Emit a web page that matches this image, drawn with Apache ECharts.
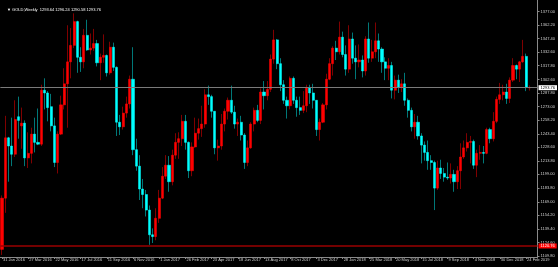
<!DOCTYPE html>
<html><head><meta charset="utf-8">
<script src="https://cdn.jsdelivr.net/npm/echarts@6/dist/echarts.min.js"></script>
<style>html,body{margin:0;padding:0;background:#000;overflow:hidden}#c{width:558px;height:267px}</style>
</head><body><div id="c"></div>
<script>
// Weekly GOLD candles, week of 31 Jan 2016 .. week of 3 Mar 2019
const openP = [1117,1173,1239,1230,1221,1262,1252,1255,1217,1222,
1243,1234,1232,1291,1288,1273,1252,1212,1243,1275,
1298,1322,1340,1366,1327,1322,1351,1335,1337,1342,
1321,1327,1329,1310,1338,1316,1256,1251,1266,1276,
1303,1226,1208,1183,1177,1160,1133,1131,1151,1173,
1197,1209,1191,1220,1234,1238,1257,1234,1203,1229,
1244,1249,1254,1286,1284,1268,1228,1230,1254,1268,
1280,1267,1254,1256,1242,1212,1228,1254,1269,1258,
1289,1285,1292,1325,1346,1320,1297,1280,1274,1304,
1280,1272,1269,1274,1294,1288,1280,1248,1256,1275,
1303,1320,1337,1333,1349,1330,1314,1347,1326,1322,
1324,1312,1347,1326,1333,1345,1336,1322,1315,1318,
1291,1302,1294,1298,1280,1269,1251,1256,1241,1231,
1223,1214,1212,1184,1206,1200,1196,1195,1199,1191,
1203,1218,1228,1234,1235,1209,1222,1223,1222,1248,
1238,1257,1281,1286,1289,1282,1302,1318,1314,1322,
1328,1293.64];
const highP = [1176,1263,1240,1261,1280,1284,1272,1258,1245,1250,
1261,1271,1297,1304,1290,1287,1261,1246,1285,1315,
1362,1359,1375,1367,1338,1358,1368,1353,1358,1346,
1331,1352,1330,1344,1343,1317,1264,1273,1284,1307,
1338,1238,1220,1194,1182,1165,1140,1162,1182,1207,
1220,1219,1226,1244,1245,1264,1264,1235,1234,1261,
1260,1274,1292,1296,1286,1268,1237,1265,1271,1283,
1296,1274,1260,1263,1244,1236,1256,1272,1275,1293,
1301,1301,1330,1357,1347,1326,1302,1284,1306,1306,
1284,1284,1290,1297,1297,1298,1280,1260,1277,1309,
1326,1339,1345,1366,1355,1340,1362,1354,1340,1341,
1329,1350,1365,1346,1365,1353,1338,1327,1326,1322,
1307,1308,1303,1310,1282,1272,1265,1263,1244,1235,
1236,1220,1214,1214,1215,1206,1212,1211,1204,1208,
1233,1236,1244,1241,1237,1226,1231,1230,1250,1250,
1267,1284,1299,1297,1298,1305,1326,1319,1323,1346,
1331,1296.24];
const lowP = [1111,1157,1191,1208,1218,1238,1227,1208,1206,1211,
1223,1231,1230,1270,1257,1246,1207,1200,1242,1270,
1250,1304,1337,1310,1311,1315,1334,1330,1334,1317,
1302,1321,1306,1308,1312,1241,1242,1248,1261,1271,
1220,1203,1171,1162,1153,1122,1124,1127,1146,1172,
1194,1180,1187,1216,1216,1230,1226,1195,1197,1228,
1237,1240,1250,1275,1261,1221,1214,1226,1246,1259,
1265,1249,1241,1236,1205,1208,1227,1246,1256,1254,
1270,1280,1289,1320,1314,1290,1276,1260,1270,1276,
1262,1264,1266,1267,1276,1271,1241,1236,1255,1270,
1302,1307,1324,1330,1327,1307,1310,1320,1303,1316,
1305,1307,1321,1322,1326,1322,1310,1302,1302,1282,
1281,1288,1289,1274,1261,1246,1238,1237,1211,1214,
1204,1204,1160,1182,1194,1191,1193,1189,1180,1183,
1183,1216,1224,1211,1205,1196,1215,1211,1221,1233,
1235,1255,1276,1280,1276,1277,1300,1303,1300,1321,
1290,1290.58];
const closeP = [1173,1239,1230,1221,1259,1258,1255,1217,1222,1243,
1234,1232,1291,1288,1272,1252,1212,1243,1275,1298,
1322,1340,1366,1327,1322,1351,1335,1337,1342,1321,
1327,1329,1310,1338,1316,1256,1251,1266,1276,1303,
1226,1208,1183,1177,1160,1133,1131,1151,1173,1197,
1209,1191,1220,1234,1238,1257,1234,1203,1229,1244,
1249,1254,1286,1284,1268,1228,1230,1254,1268,1280,
1267,1254,1256,1242,1212,1228,1254,1269,1258,1289,
1285,1292,1325,1346,1320,1297,1280,1274,1304,1280,
1272,1269,1274,1294,1288,1280,1248,1256,1275,1303,
1320,1337,1333,1349,1330,1314,1347,1326,1322,1324,
1312,1347,1326,1333,1345,1336,1322,1315,1318,1291,
1302,1294,1298,1280,1269,1251,1256,1241,1231,1223,
1214,1212,1184,1206,1200,1196,1195,1199,1191,1203,
1218,1228,1234,1235,1209,1222,1223,1222,1248,1238,
1257,1281,1286,1289,1282,1302,1318,1314,1322,1328,
1294,1293.76];
const xTickLabels = ['31 Jan 2016','27 Mar 2016','22 May 2016','17 Jul 2016','11 Sep 2016','6 Nov 2016',
'1 Jan 2017','26 Feb 2017','23 Apr 2017','18 Jun 2017','13 Aug 2017','8 Oct 2017','3 Dec 2017',
'28 Jan 2018','25 Mar 2018','20 May 2018','15 Jul 2018','9 Sep 2018','4 Nov 2018','30 Dec 2018','24 Feb 2019'];
const yTickValues = [1109.80,1124.60,1139.40,1154.20,1169.00,1183.80,1199.00,1213.80,1228.60,1243.40,
1258.20,1273.00,1287.80,1302.60,1317.80,1332.60,1347.40,1362.20,1377.00];
const lastPrice = 1293.76;
const lineLevel = 1120.76;
const headerText = '\u25BC GOLD,Weekly  1293.64 1296.24 1290.58 1293.76';
const labelEvery = 8;
const emptyBarsRight = 2;

const n = openP.length + emptyBarsRight;
const cats = [];
for (let i = 0; i < n; i++) cats.push(String(i));
const full = openP.map((o, i) => [o, closeP[i], lowP[i], highP[i]]);
const bodies = openP.map((o, i) => [o, closeP[i], Math.min(o, closeP[i]), Math.max(o, closeP[i])]);

const FONT = 'Liberation Sans';
const chart = echarts.init(document.getElementById('c'), null, {renderer: 'canvas'});
chart.setOption({
  backgroundColor: '#000000',
  animation: false,
  title: {text: headerText, left: 2, top: 3, textStyle: {color: '#ffffff', fontSize: 4, fontWeight: 'normal', fontFamily: FONT}},
  grid: {left: -1.5, right: 20, top: 0, bottom: 10, containLabel: false},
  xAxis: {
    type: 'category', data: cats, boundaryGap: true,
    axisLine: {show: true, lineStyle: {color: '#8a8a8a', width: 1}},
    axisTick: {show: true, alignWithLabel: true, length: 2, lineStyle: {color: '#8a8a8a'},
      interval: (i) => i % labelEvery === 0},
    axisLabel: {show: true, interval: (i) => i % labelEvery === 0, margin: 1, align: 'left',
      padding: [0, 0, 0, 1], color: '#d0d0d0', fontSize: 4, fontFamily: FONT,
      formatter: (v, i) => (i % labelEvery === 0 && xTickLabels[i / labelEvery]) ? xTickLabels[i / labelEvery] : ''},
    splitLine: {show: false}
  },
  yAxis: {
    type: 'value', position: 'right', min: 1108.7, max: 1389.6, scale: true,
    axisLine: {show: true, lineStyle: {color: '#8a8a8a', width: 1}},
    axisTick: {show: true, length: 2, lineStyle: {color: '#8a8a8a'}, customValues: yTickValues},
    axisLabel: {show: true, margin: 3, color: '#d0d0d0', fontSize: 4, fontFamily: FONT,
      customValues: yTickValues, formatter: (v) => v.toFixed(2)},
    splitLine: {show: false}
  },
  series: [
    {
      type: 'candlestick', data: full, barWidth: 1, silent: true, clip: true,
      itemStyle: {color: '#800000', color0: '#007878', borderColor: '#800000', borderColor0: '#007878', borderWidth: 1},
      markLine: {
        silent: true, symbol: 'none', animation: false,
        data: [
          {yAxis: lastPrice, lineStyle: {color: '#7a7a7a', width: 1, type: 'solid'},
           label: {show: true, position: 'end', distance: 1, formatter: lastPrice.toFixed(2), color: '#000', backgroundColor: '#ffffff', padding: [1, 2, 0, 2], fontSize: 4, fontFamily: FONT}},
          {yAxis: lineLevel, lineStyle: {color: '#9a0000', width: 1.5, type: 'solid'},
           label: {show: true, position: 'end', distance: 1, formatter: lineLevel.toFixed(2), color: '#ffffff', backgroundColor: '#ff0000', padding: [1, 2, 0, 2], fontSize: 4, fontFamily: FONT}}
        ]
      }
    },
    {
      type: 'candlestick', data: bodies, barWidth: 2.6, silent: true, clip: true,
      itemStyle: {color: '#ff0000', color0: '#00ffff', borderColor: '#ff0000', borderColor0: '#00ffff', borderWidth: 0.5}
    }
  ]
});
</script></body></html>
